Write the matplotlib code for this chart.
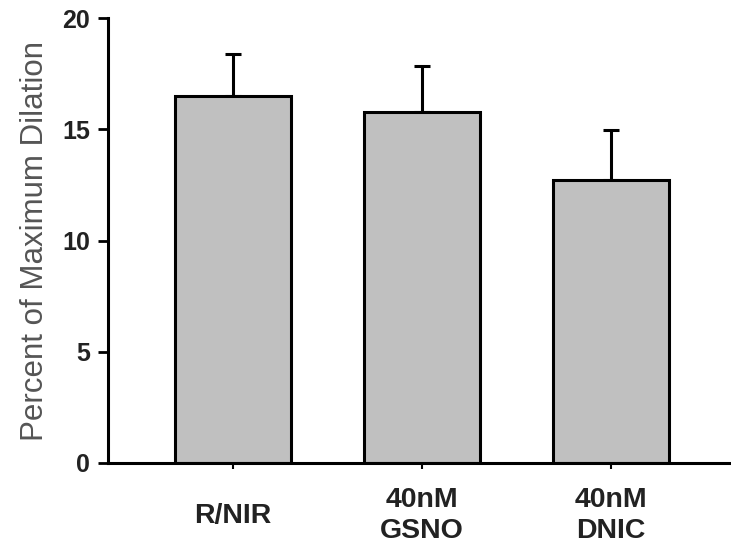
import matplotlib.pyplot as plt

# data
groups = ['R/NIR', '40nM\nGSNO', '40nM\nDNIC']
means = [16.5, 15.8, 12.7]
errs_up = [1.9, 2.05, 2.25]
yticks = [0, 5, 10, 15, 20]

plt.rcParams['font.family'] = ['Liberation Sans', 'DejaVu Sans']

fig = plt.figure(figsize=(7.31, 5.51), dpi=100)
ax = fig.add_axes([0.148, 0.16, 0.852, 0.807])

pos = range(len(groups))
ax.bar(pos, means, width=0.61, color='#c0c0c0', edgecolor='black',
       linewidth=2.2, zorder=2)
ax.errorbar(pos, means, yerr=[[0] * len(means), errs_up], fmt='none',
            ecolor='black', elinewidth=2.2, capsize=6, capthick=2.2, zorder=1)

ax.set_xlim(-0.66, 2.635)
ax.set_ylim(0, 20)
ax.set_yticks(yticks)
ax.set_xticks(list(pos))
ax.set_xticklabels(groups, fontsize=20.5, fontweight='bold', color='#222222',
                   linespacing=1.25, va='center')
for t in ax.get_yticklabels():
    t.set_fontsize(18)
    t.set_fontweight('bold')
    t.set_color('#222222')

ax.spines['top'].set_visible(False)
ax.spines['right'].set_visible(False)
ax.spines['left'].set_linewidth(2.2)
ax.spines['bottom'].set_linewidth(2.2)
ax.tick_params(axis='y', length=7, width=2, pad=6)
ax.tick_params(axis='x', length=4, width=1.5, pad=34)

ax.set_ylabel('Percent of Maximum Dilation', fontsize=22.5, color='#555555',
              labelpad=9)

fig.savefig('out.png', dpi=100)
